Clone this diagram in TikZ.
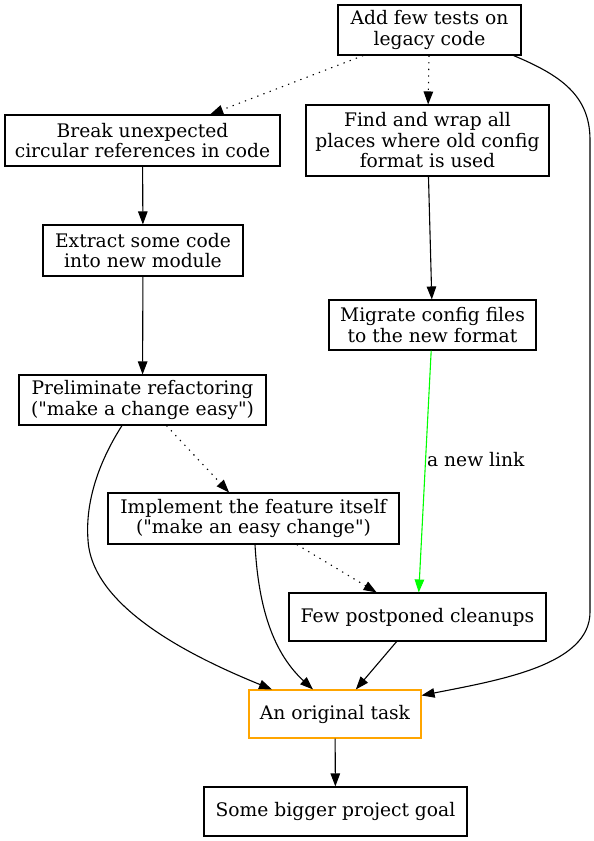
\documentclass[tikz,border=0pt]{standalone}
\usepackage{fontspec}
\setmainfont{DejaVu Serif}[Ligatures=TeXOff]
\usetikzlibrary{arrows.meta}
\definecolor{origtask}{HTML}{FFA500}
\definecolor{newlink}{HTML}{00FF00}

\begin{document}
\begin{tikzpicture}[x=1pt,y=-1pt,task/.style={draw,rectangle,align=center,inner sep=0pt,line width=1.1pt,font=\fontsize{18.67}{20.5}\selectfont},link/.style={-{Triangle[length=13pt,width=9.5pt]},line width=1.1pt},soft/.style={link,dash pattern=on 1.3pt off 5.3pt}]
  \useasboundingbox (0,0) rectangle (594,841);
  \node[task,minimum width=183pt,minimum height=50pt] (tests) at (429.5,30) {Add few tests on\\legacy code};
  \node[task,minimum width=275pt,minimum height=51pt] (break) at (142.5,140.5) {Break unexpected\\circular references in code};
  \node[task,minimum width=243pt,minimum height=71pt] (find) at (427.5,140.5) {Find and wrap all\\places where old config\\format is used};
  \node[task,minimum width=200pt,minimum height=51pt] (extract) at (143,250.5) {Extract some code\\into new module};
  \node[task,minimum width=207pt,minimum height=50pt] (migrate) at (432.5,325) {Migrate config files\\to the new format};
  \node[task,minimum width=247pt,minimum height=50pt] (prelim) at (142.5,400) {Preliminate refactoring\\("make a change easy")};
  \node[task,minimum width=291pt,minimum height=51pt] (implement) at (253.5,518.5) {Implement the feature itself\\("make an easy change")};
  \node[task,minimum width=257pt,minimum height=48pt] (cleanups) at (417.5,617) {Few postponed cleanups};
  \node[task,draw=origtask,minimum width=172pt,minimum height=48pt] (orig) at (335,714) {An original task};
  \node[task,minimum width=263pt,minimum height=49pt] (goal) at (335.5,811.5) {Some bigger project goal};

  \draw[soft] (tests) -- (break);
  \draw[soft] (tests) -- (find);
  \draw[link] ([xshift=-8pt]tests.south east) .. controls (560,75) and (590,95) .. (590,140) -- (590,612) .. controls (590,665) and (500,680) .. ([yshift=-6pt]orig.north east);
  \draw[link] (break) -- (extract);
  \draw[link] (extract) -- (prelim);
  \draw[link] (find) -- (migrate);
  \draw[link,color=newlink] (migrate) -- node[pos=0.45,anchor=west,inner sep=1pt,text=black,font=\fontsize{18.67}{20.5}\selectfont] (newlbl) {a new link} (cleanups);
  \draw[soft] (prelim) -- (implement);
  \draw[link] ([xshift=-20.5pt]prelim.south) .. controls (100,460) and (85,500) .. (88,540) .. controls (92,610) and (200,660) .. ([xshift=-63pt]orig.north);
  \draw[link] ([xshift=1.5pt]implement.south) .. controls (258,600) and (270,650) .. ([xshift=-22pt]orig.north);
  \draw[soft] (implement) -- (cleanups);
  \draw[link] (cleanups) -- (orig);
  \draw[link] (orig) -- (goal);
\end{tikzpicture}
\end{document}
